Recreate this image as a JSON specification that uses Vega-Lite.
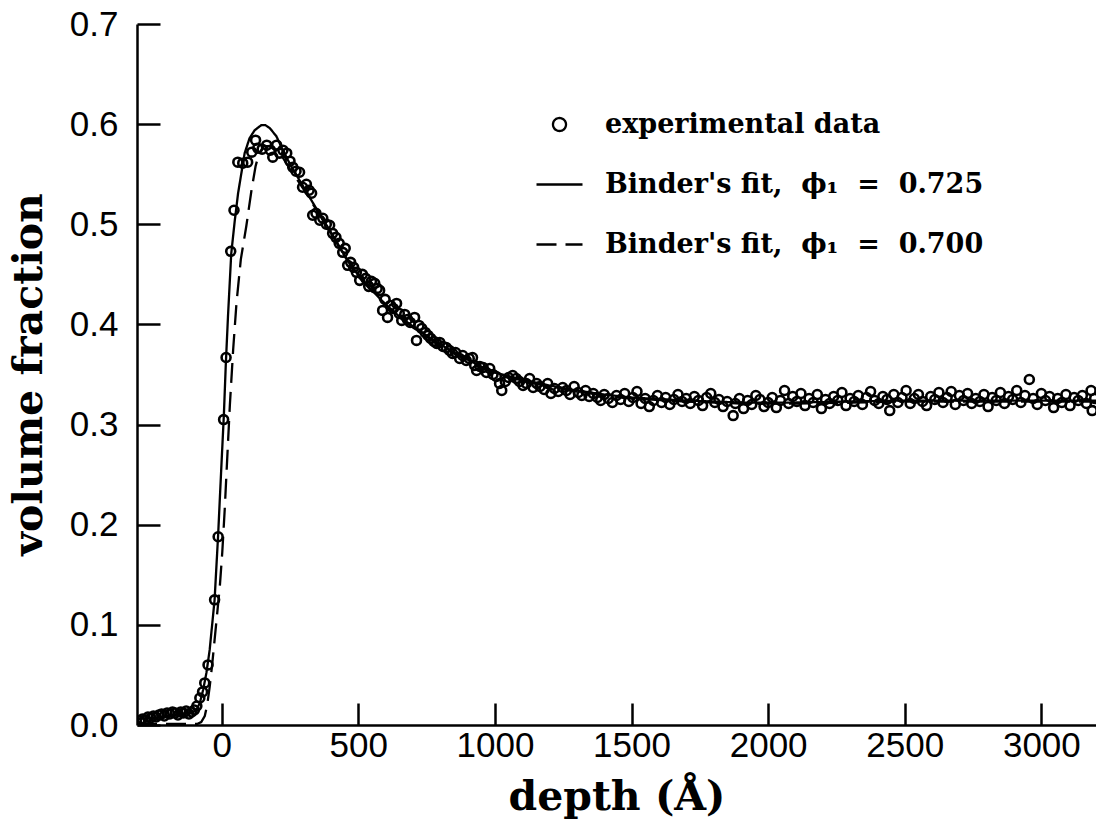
{
  "$schema": "https://vega.github.io/schema/vega-lite/v6.json",
  "width": 959,
  "height": 701,
  "autosize": {"type": "none"},
  "padding": {"left": 137, "top": 24, "right": 0, "bottom": 96},
  "background": "white",
  "config": {
    "view": {"stroke": null},
    "axis": {
      "grid": false,
      "domainColor": "black",
      "domainWidth": 2.5,
      "tickColor": "black",
      "tickWidth": 2.5,
      "labelColor": "black",
      "labelFont": "Liberation Sans",
      "labelFontSize": 35,
      "labelFlush": false,
      "labelOverlap": false,
      "titleColor": "black",
      "titleFont": "DejaVu Serif",
      "titleFontSize": 41,
      "titleFontWeight": "bold"
    }
  },
  "resolve": {"axis": {"x": "independent", "y": "independent"}},
  "datasets": {
    "exp": [
      {"depth": -300, "fraction": 0.004}, {"depth": -290, "fraction": 0.006}, {"depth": -280, "fraction": 0.005},
      {"depth": -270, "fraction": 0.008}, {"depth": -260, "fraction": 0.007}, {"depth": -250, "fraction": 0.009},
      {"depth": -240, "fraction": 0.008}, {"depth": -230, "fraction": 0.010}, {"depth": -220, "fraction": 0.011},
      {"depth": -210, "fraction": 0.009}, {"depth": -200, "fraction": 0.012}, {"depth": -190, "fraction": 0.011},
      {"depth": -180, "fraction": 0.013}, {"depth": -170, "fraction": 0.012}, {"depth": -160, "fraction": 0.010},
      {"depth": -150, "fraction": 0.013}, {"depth": -140, "fraction": 0.012}, {"depth": -130, "fraction": 0.014},
      {"depth": -120, "fraction": 0.011}, {"depth": -110, "fraction": 0.013}, {"depth": -100, "fraction": 0.015},
      {"depth": -91, "fraction": 0.019}, {"depth": -80, "fraction": 0.027}, {"depth": -70, "fraction": 0.033},
      {"depth": -62, "fraction": 0.042}, {"depth": -50, "fraction": 0.060}, {"depth": -26, "fraction": 0.125},
      {"depth": -13, "fraction": 0.188}, {"depth": 7, "fraction": 0.305}, {"depth": 16, "fraction": 0.367},
      {"depth": 33, "fraction": 0.473}, {"depth": 45, "fraction": 0.514}, {"depth": 59, "fraction": 0.562},
      {"depth": 77, "fraction": 0.561}, {"depth": 95, "fraction": 0.562}, {"depth": 110, "fraction": 0.572},
      {"depth": 124, "fraction": 0.584}, {"depth": 132, "fraction": 0.576}, {"depth": 148, "fraction": 0.575},
      {"depth": 165, "fraction": 0.579}, {"depth": 178, "fraction": 0.574}, {"depth": 187, "fraction": 0.567},
      {"depth": 201, "fraction": 0.579}, {"depth": 212, "fraction": 0.571}, {"depth": 224, "fraction": 0.574},
      {"depth": 238, "fraction": 0.571}, {"depth": 250, "fraction": 0.563}, {"depth": 260, "fraction": 0.557},
      {"depth": 272, "fraction": 0.553}, {"depth": 285, "fraction": 0.552}, {"depth": 296, "fraction": 0.537},
      {"depth": 310, "fraction": 0.540}, {"depth": 320, "fraction": 0.534}, {"depth": 329, "fraction": 0.531},
      {"depth": 333, "fraction": 0.509}, {"depth": 345, "fraction": 0.511}, {"depth": 359, "fraction": 0.504},
      {"depth": 370, "fraction": 0.506}, {"depth": 383, "fraction": 0.500}, {"depth": 395, "fraction": 0.499},
      {"depth": 406, "fraction": 0.491}, {"depth": 418, "fraction": 0.487}, {"depth": 430, "fraction": 0.481},
      {"depth": 443, "fraction": 0.472}, {"depth": 452, "fraction": 0.476}, {"depth": 461, "fraction": 0.459},
      {"depth": 472, "fraction": 0.462}, {"depth": 483, "fraction": 0.457}, {"depth": 493, "fraction": 0.452},
      {"depth": 505, "fraction": 0.444}, {"depth": 515, "fraction": 0.450}, {"depth": 527, "fraction": 0.446},
      {"depth": 538, "fraction": 0.438}, {"depth": 548, "fraction": 0.443}, {"depth": 560, "fraction": 0.441},
      {"depth": 569, "fraction": 0.436}, {"depth": 578, "fraction": 0.434}, {"depth": 589, "fraction": 0.414},
      {"depth": 598, "fraction": 0.425}, {"depth": 607, "fraction": 0.407}, {"depth": 618, "fraction": 0.419},
      {"depth": 628, "fraction": 0.416}, {"depth": 640, "fraction": 0.421}, {"depth": 650, "fraction": 0.411},
      {"depth": 659, "fraction": 0.404}, {"depth": 670, "fraction": 0.410}, {"depth": 680, "fraction": 0.405},
      {"depth": 690, "fraction": 0.402}, {"depth": 706, "fraction": 0.407}, {"depth": 713, "fraction": 0.384},
      {"depth": 722, "fraction": 0.399}, {"depth": 732, "fraction": 0.396}, {"depth": 745, "fraction": 0.392},
      {"depth": 755, "fraction": 0.389}, {"depth": 765, "fraction": 0.386}, {"depth": 777, "fraction": 0.383},
      {"depth": 787, "fraction": 0.381}, {"depth": 798, "fraction": 0.382}, {"depth": 810, "fraction": 0.378},
      {"depth": 822, "fraction": 0.377}, {"depth": 834, "fraction": 0.374}, {"depth": 845, "fraction": 0.371},
      {"depth": 856, "fraction": 0.372}, {"depth": 871, "fraction": 0.366}, {"depth": 882, "fraction": 0.369},
      {"depth": 895, "fraction": 0.364}, {"depth": 906, "fraction": 0.366}, {"depth": 918, "fraction": 0.367},
      {"depth": 926, "fraction": 0.359}, {"depth": 933, "fraction": 0.354}, {"depth": 945, "fraction": 0.358},
      {"depth": 957, "fraction": 0.357}, {"depth": 969, "fraction": 0.352}, {"depth": 981, "fraction": 0.356},
      {"depth": 993, "fraction": 0.350}, {"depth": 1005, "fraction": 0.348}, {"depth": 1017, "fraction": 0.341},
      {"depth": 1025, "fraction": 0.334}, {"depth": 1038, "fraction": 0.343}, {"depth": 1050, "fraction": 0.347},
      {"depth": 1065, "fraction": 0.349}, {"depth": 1078, "fraction": 0.346}, {"depth": 1090, "fraction": 0.343},
      {"depth": 1103, "fraction": 0.339}, {"depth": 1115, "fraction": 0.341}, {"depth": 1127, "fraction": 0.346},
      {"depth": 1140, "fraction": 0.337}, {"depth": 1153, "fraction": 0.341}, {"depth": 1165, "fraction": 0.338},
      {"depth": 1180, "fraction": 0.335}, {"depth": 1193, "fraction": 0.341}, {"depth": 1205, "fraction": 0.331},
      {"depth": 1218, "fraction": 0.336}, {"depth": 1232, "fraction": 0.333}, {"depth": 1248, "fraction": 0.337},
      {"depth": 1262, "fraction": 0.334}, {"depth": 1275, "fraction": 0.330}, {"depth": 1290, "fraction": 0.338},
      {"depth": 1305, "fraction": 0.332}, {"depth": 1318, "fraction": 0.329}, {"depth": 1332, "fraction": 0.334},
      {"depth": 1345, "fraction": 0.328}, {"depth": 1360, "fraction": 0.331}, {"depth": 1375, "fraction": 0.327},
      {"depth": 1387, "fraction": 0.324}, {"depth": 1400, "fraction": 0.330}, {"depth": 1415, "fraction": 0.326},
      {"depth": 1430, "fraction": 0.322}, {"depth": 1445, "fraction": 0.329}, {"depth": 1460, "fraction": 0.325},
      {"depth": 1475, "fraction": 0.331}, {"depth": 1490, "fraction": 0.323}, {"depth": 1505, "fraction": 0.327},
      {"depth": 1520, "fraction": 0.333}, {"depth": 1535, "fraction": 0.321}, {"depth": 1550, "fraction": 0.326},
      {"depth": 1565, "fraction": 0.318}, {"depth": 1580, "fraction": 0.324}, {"depth": 1595, "fraction": 0.329},
      {"depth": 1610, "fraction": 0.322}, {"depth": 1625, "fraction": 0.327}, {"depth": 1640, "fraction": 0.320},
      {"depth": 1655, "fraction": 0.325}, {"depth": 1670, "fraction": 0.330}, {"depth": 1685, "fraction": 0.323},
      {"depth": 1700, "fraction": 0.326}, {"depth": 1715, "fraction": 0.321}, {"depth": 1730, "fraction": 0.328},
      {"depth": 1745, "fraction": 0.324}, {"depth": 1760, "fraction": 0.319}, {"depth": 1775, "fraction": 0.327},
      {"depth": 1790, "fraction": 0.331}, {"depth": 1805, "fraction": 0.322}, {"depth": 1820, "fraction": 0.325},
      {"depth": 1835, "fraction": 0.318}, {"depth": 1850, "fraction": 0.323}, {"depth": 1872, "fraction": 0.309},
      {"depth": 1880, "fraction": 0.321}, {"depth": 1895, "fraction": 0.326}, {"depth": 1910, "fraction": 0.316},
      {"depth": 1925, "fraction": 0.324}, {"depth": 1940, "fraction": 0.320}, {"depth": 1955, "fraction": 0.329},
      {"depth": 1970, "fraction": 0.325}, {"depth": 1985, "fraction": 0.318}, {"depth": 2000, "fraction": 0.322},
      {"depth": 2015, "fraction": 0.327}, {"depth": 2030, "fraction": 0.317}, {"depth": 2045, "fraction": 0.324},
      {"depth": 2060, "fraction": 0.334}, {"depth": 2075, "fraction": 0.321}, {"depth": 2090, "fraction": 0.328},
      {"depth": 2105, "fraction": 0.323}, {"depth": 2120, "fraction": 0.331}, {"depth": 2135, "fraction": 0.319},
      {"depth": 2150, "fraction": 0.326}, {"depth": 2165, "fraction": 0.322}, {"depth": 2180, "fraction": 0.330},
      {"depth": 2195, "fraction": 0.316}, {"depth": 2210, "fraction": 0.325}, {"depth": 2225, "fraction": 0.321},
      {"depth": 2240, "fraction": 0.328}, {"depth": 2255, "fraction": 0.324}, {"depth": 2270, "fraction": 0.332},
      {"depth": 2285, "fraction": 0.319}, {"depth": 2300, "fraction": 0.326}, {"depth": 2315, "fraction": 0.323},
      {"depth": 2330, "fraction": 0.329}, {"depth": 2345, "fraction": 0.320}, {"depth": 2360, "fraction": 0.327},
      {"depth": 2375, "fraction": 0.333}, {"depth": 2390, "fraction": 0.324}, {"depth": 2405, "fraction": 0.321},
      {"depth": 2420, "fraction": 0.328}, {"depth": 2435, "fraction": 0.325}, {"depth": 2445, "fraction": 0.314},
      {"depth": 2460, "fraction": 0.330}, {"depth": 2475, "fraction": 0.322}, {"depth": 2490, "fraction": 0.327},
      {"depth": 2505, "fraction": 0.334}, {"depth": 2520, "fraction": 0.321}, {"depth": 2535, "fraction": 0.326},
      {"depth": 2550, "fraction": 0.330}, {"depth": 2565, "fraction": 0.323}, {"depth": 2580, "fraction": 0.319},
      {"depth": 2595, "fraction": 0.328}, {"depth": 2610, "fraction": 0.325}, {"depth": 2625, "fraction": 0.332},
      {"depth": 2640, "fraction": 0.322}, {"depth": 2655, "fraction": 0.327}, {"depth": 2670, "fraction": 0.333},
      {"depth": 2685, "fraction": 0.320}, {"depth": 2700, "fraction": 0.329}, {"depth": 2715, "fraction": 0.324},
      {"depth": 2730, "fraction": 0.331}, {"depth": 2745, "fraction": 0.321}, {"depth": 2760, "fraction": 0.326},
      {"depth": 2775, "fraction": 0.323}, {"depth": 2790, "fraction": 0.330}, {"depth": 2805, "fraction": 0.318},
      {"depth": 2820, "fraction": 0.327}, {"depth": 2835, "fraction": 0.324}, {"depth": 2850, "fraction": 0.332},
      {"depth": 2865, "fraction": 0.321}, {"depth": 2880, "fraction": 0.328}, {"depth": 2895, "fraction": 0.325},
      {"depth": 2910, "fraction": 0.334}, {"depth": 2925, "fraction": 0.322}, {"depth": 2940, "fraction": 0.329},
      {"depth": 2956, "fraction": 0.345}, {"depth": 2970, "fraction": 0.326}, {"depth": 2985, "fraction": 0.320},
      {"depth": 3000, "fraction": 0.331}, {"depth": 3015, "fraction": 0.324}, {"depth": 3030, "fraction": 0.328},
      {"depth": 3045, "fraction": 0.317}, {"depth": 3060, "fraction": 0.326}, {"depth": 3075, "fraction": 0.322},
      {"depth": 3090, "fraction": 0.330}, {"depth": 3105, "fraction": 0.319}, {"depth": 3120, "fraction": 0.327},
      {"depth": 3135, "fraction": 0.324}, {"depth": 3150, "fraction": 0.329}, {"depth": 3165, "fraction": 0.321},
      {"depth": 3182, "fraction": 0.334}, {"depth": 3186, "fraction": 0.314}, {"depth": 3195, "fraction": 0.326}
    ],
    "fit": [
      {"depth": -310, "fraction": 0.006, "series": "s"}, {"depth": -250, "fraction": 0.007, "series": "s"},
      {"depth": -200, "fraction": 0.009, "series": "s"}, {"depth": -150, "fraction": 0.011, "series": "s"},
      {"depth": -120, "fraction": 0.012, "series": "s"}, {"depth": -105, "fraction": 0.013, "series": "s"},
      {"depth": -93, "fraction": 0.015, "series": "s"}, {"depth": -80, "fraction": 0.022, "series": "s"},
      {"depth": -68, "fraction": 0.035, "series": "s"}, {"depth": -56, "fraction": 0.052, "series": "s"},
      {"depth": -44, "fraction": 0.075, "series": "s"}, {"depth": -35, "fraction": 0.100, "series": "s"},
      {"depth": -26, "fraction": 0.125, "series": "s"}, {"depth": -19, "fraction": 0.160, "series": "s"},
      {"depth": -13, "fraction": 0.190, "series": "s"}, {"depth": -7, "fraction": 0.225, "series": "s"},
      {"depth": 0, "fraction": 0.265, "series": "s"}, {"depth": 8, "fraction": 0.310, "series": "s"},
      {"depth": 15, "fraction": 0.360, "series": "s"}, {"depth": 23, "fraction": 0.408, "series": "s"},
      {"depth": 35, "fraction": 0.471, "series": "s"}, {"depth": 48, "fraction": 0.504, "series": "s"},
      {"depth": 60, "fraction": 0.531, "series": "s"}, {"depth": 72, "fraction": 0.551, "series": "s"},
      {"depth": 84, "fraction": 0.571, "series": "s"}, {"depth": 102, "fraction": 0.586, "series": "s"},
      {"depth": 121, "fraction": 0.594, "series": "s"}, {"depth": 145, "fraction": 0.599, "series": "s"},
      {"depth": 160, "fraction": 0.599, "series": "s"}, {"depth": 176, "fraction": 0.596, "series": "s"},
      {"depth": 200, "fraction": 0.588, "series": "s"}, {"depth": 224, "fraction": 0.574, "series": "s"},
      {"depth": 250, "fraction": 0.560, "series": "s"}, {"depth": 300, "fraction": 0.537, "series": "s"},
      {"depth": 350, "fraction": 0.514, "series": "s"}, {"depth": 400, "fraction": 0.492, "series": "s"},
      {"depth": 450, "fraction": 0.469, "series": "s"}, {"depth": 500, "fraction": 0.449, "series": "s"},
      {"depth": 550, "fraction": 0.434, "series": "s"}, {"depth": 600, "fraction": 0.420, "series": "s"},
      {"depth": 650, "fraction": 0.408, "series": "s"}, {"depth": 700, "fraction": 0.398, "series": "s"},
      {"depth": 750, "fraction": 0.389, "series": "s"}, {"depth": 800, "fraction": 0.380, "series": "s"},
      {"depth": 850, "fraction": 0.372, "series": "s"}, {"depth": 900, "fraction": 0.365, "series": "s"},
      {"depth": 950, "fraction": 0.358, "series": "s"}, {"depth": 1000, "fraction": 0.352, "series": "s"},
      {"depth": 1100, "fraction": 0.345, "series": "s"}, {"depth": 1200, "fraction": 0.339, "series": "s"},
      {"depth": 1300, "fraction": 0.334, "series": "s"}, {"depth": 1400, "fraction": 0.330, "series": "s"},
      {"depth": 1500, "fraction": 0.327, "series": "s"}, {"depth": 1700, "fraction": 0.324, "series": "s"},
      {"depth": 1900, "fraction": 0.322, "series": "s"}, {"depth": 2100, "fraction": 0.322, "series": "s"},
      {"depth": 2300, "fraction": 0.323, "series": "s"}, {"depth": 2500, "fraction": 0.324, "series": "s"},
      {"depth": 2700, "fraction": 0.324, "series": "s"}, {"depth": 2900, "fraction": 0.324, "series": "s"},
      {"depth": 3100, "fraction": 0.324, "series": "s"}, {"depth": 3200, "fraction": 0.324, "series": "s"},
      {"depth": -310, "fraction": 0.001, "series": "d"}, {"depth": -150, "fraction": 0.001, "series": "d"},
      {"depth": -90, "fraction": 0.001, "series": "d"}, {"depth": -75, "fraction": 0.003, "series": "d"},
      {"depth": -62, "fraction": 0.009, "series": "d"}, {"depth": -53, "fraction": 0.020, "series": "d"},
      {"depth": -44, "fraction": 0.038, "series": "d"}, {"depth": -35, "fraction": 0.060, "series": "d"},
      {"depth": -26, "fraction": 0.085, "series": "d"}, {"depth": -17, "fraction": 0.110, "series": "d"},
      {"depth": -7, "fraction": 0.138, "series": "d"}, {"depth": 2, "fraction": 0.172, "series": "d"},
      {"depth": 11, "fraction": 0.215, "series": "d"}, {"depth": 20, "fraction": 0.265, "series": "d"},
      {"depth": 30, "fraction": 0.320, "series": "d"}, {"depth": 42, "fraction": 0.375, "series": "d"},
      {"depth": 54, "fraction": 0.421, "series": "d"}, {"depth": 70, "fraction": 0.465, "series": "d"},
      {"depth": 90, "fraction": 0.498, "series": "d"}, {"depth": 109, "fraction": 0.534, "series": "d"},
      {"depth": 124, "fraction": 0.558, "series": "d"}, {"depth": 137, "fraction": 0.571, "series": "d"},
      {"depth": 155, "fraction": 0.578, "series": "d"}, {"depth": 175, "fraction": 0.578, "series": "d"},
      {"depth": 200, "fraction": 0.573, "series": "d"}, {"depth": 225, "fraction": 0.566, "series": "d"},
      {"depth": 250, "fraction": 0.555, "series": "d"}, {"depth": 300, "fraction": 0.535, "series": "d"},
      {"depth": 350, "fraction": 0.513, "series": "d"}, {"depth": 400, "fraction": 0.491, "series": "d"},
      {"depth": 450, "fraction": 0.468, "series": "d"}, {"depth": 500, "fraction": 0.448, "series": "d"},
      {"depth": 550, "fraction": 0.433, "series": "d"}, {"depth": 600, "fraction": 0.419, "series": "d"},
      {"depth": 650, "fraction": 0.407, "series": "d"}, {"depth": 700, "fraction": 0.397, "series": "d"},
      {"depth": 750, "fraction": 0.388, "series": "d"}, {"depth": 800, "fraction": 0.379, "series": "d"},
      {"depth": 850, "fraction": 0.371, "series": "d"}, {"depth": 900, "fraction": 0.364, "series": "d"},
      {"depth": 950, "fraction": 0.357, "series": "d"}, {"depth": 1000, "fraction": 0.351, "series": "d"},
      {"depth": 1100, "fraction": 0.344, "series": "d"}, {"depth": 1200, "fraction": 0.338, "series": "d"},
      {"depth": 1300, "fraction": 0.333, "series": "d"}, {"depth": 1400, "fraction": 0.329, "series": "d"},
      {"depth": 1500, "fraction": 0.326, "series": "d"}, {"depth": 1700, "fraction": 0.323, "series": "d"},
      {"depth": 1900, "fraction": 0.321, "series": "d"}, {"depth": 2100, "fraction": 0.321, "series": "d"},
      {"depth": 2300, "fraction": 0.322, "series": "d"}, {"depth": 2500, "fraction": 0.323, "series": "d"},
      {"depth": 2700, "fraction": 0.323, "series": "d"}, {"depth": 2900, "fraction": 0.323, "series": "d"},
      {"depth": 3100, "fraction": 0.323, "series": "d"}, {"depth": 3200, "fraction": 0.323, "series": "d"}
    ]
  },
  "layer": [
    {
      "data": {"name": "exp"},
      "mark": {"type": "point", "shape": "circle", "filled": false, "size": 80, "strokeWidth": 2.6, "color": "black", "opacity": 1, "clip": true},
      "encoding": {
        "x": {
          "field": "depth", "type": "quantitative",
          "scale": {"domain": [-310, 3200], "nice": false, "zero": false},
          "axis": {
            "orient": "bottom",
            "values": [0, 500, 1000, 1500, 2000, 2500, 3000],
            "format": "d",
            "title": "depth (Å)",
            "ticks": false,
            "labelPadding": 3,
            "titleBaseline": "alphabetic",
            "titleY": 84
          }
        },
        "y": {
          "field": "fraction", "type": "quantitative",
          "scale": {"domain": [0, 0.7], "nice": false, "zero": false},
          "axis": {
            "orient": "left",
            "values": [0, 0.1, 0.2, 0.3, 0.4, 0.5, 0.6, 0.7],
            "format": ".1f",
            "title": "volume fraction",
            "ticks": false,
            "labelPadding": 19,
            "titleBaseline": "alphabetic",
            "titleAngle": 270,
            "titleX": -96,
            "titleY": 350
          }
        }
      }
    },
    {
      "data": {"name": "fit"},
      "mark": {"type": "line", "color": "black", "strokeWidth": 2.3, "clip": true},
      "encoding": {
        "x": {
          "field": "depth", "type": "quantitative",
          "axis": {
            "orient": "top",
            "offset": -701,
            "values": [0, 500, 1000, 1500, 2000, 2500, 3000],
            "domain": false,
            "labels": false,
            "title": null,
            "ticks": true,
            "tickSize": 22
          }
        },
        "y": {
          "field": "fraction", "type": "quantitative",
          "axis": {
            "orient": "right",
            "offset": -959,
            "values": [0, 0.1, 0.2, 0.3, 0.4, 0.5, 0.6, 0.7],
            "domain": false,
            "labels": false,
            "title": null,
            "ticks": true,
            "tickSize": 23
          }
        },
        "strokeDash": {
          "field": "series", "type": "nominal",
          "scale": {"domain": ["exp", "s", "d"], "range": [[1, 0], [1, 0], [20, 9]]},
          "legend": {
            "orient": "none",
            "legendX": 398,
            "legendY": 76,
            "title": null,
            "padding": 0,
            "labelExpr": "datum.value === 'exp' ? 'experimental data' : datum.value === 's' ? \"Binder's fit,\u00a0 ϕ₁ \u00a0=\u00a0 0.725\" : \"Binder's fit,\u00a0 ϕ₁ \u00a0=\u00a0 0.700\"",
            "labelFont": "DejaVu Serif",
            "labelFontWeight": "bold",
            "labelFontSize": 27,
            "labelColor": "black",
            "labelLimit": 700,
            "labelOffset": 21,
            "symbolType": "stroke",
            "symbolSize": 2116,
            "symbolStrokeWidth": 2.3,
            "symbolStrokeColor": "black",
            "rowPadding": 22,
            "encode": {
              "symbols": {
                "update": {
                  "shape": {"signal": "datum.value === 'exp' ? 'circle' : 'stroke'"},
                  "size": {"signal": "datum.value === 'exp' ? 170 : 2116"},
                  "fill": {"value": "transparent"},
                  "stroke": {"value": "black"},
                  "strokeWidth": {"value": 2.3}
                }
              }
            }
          }
        }
      }
    }
  ]
}
